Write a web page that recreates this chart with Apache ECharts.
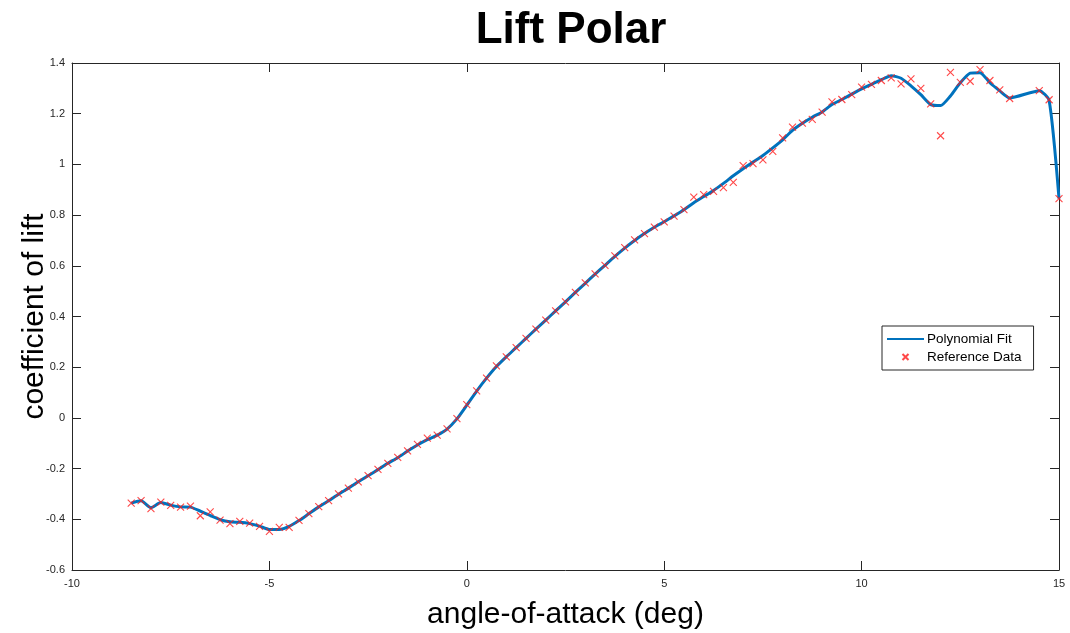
<!DOCTYPE html>
<html>
<head>
<meta charset="utf-8">
<title>Lift Polar</title>
<script src="https://cdn.jsdelivr.net/npm/echarts@6/dist/echarts.min.js"></script>
<style>
  html, body { margin: 0; padding: 0; background: #ffffff; }
  #chart { width: 1070px; height: 633px; }
</style>
</head>
<body>
<div id="chart"></div>
<script>
// Angle of attack (deg) for each sample
const aoa = [
  -8.5, -8.25, -8.0, -7.75, -7.5, -7.25, -7.0, -6.75, -6.5, -6.25,
  -6.0, -5.75, -5.5, -5.25, -5.0, -4.75, -4.5, -4.25, -4.0, -3.75,
  -3.5, -3.25, -3.0, -2.75, -2.5, -2.25, -2.0, -1.75, -1.5, -1.25,
  -1.0, -0.75, -0.5, -0.25, 0.0, 0.25, 0.5, 0.75, 1.0, 1.25,
  1.5, 1.75, 2.0, 2.25, 2.5, 2.75, 3.0, 3.25, 3.5, 3.75,
  4.0, 4.25, 4.5, 4.75, 5.0, 5.25, 5.5, 5.75, 6.0, 6.25,
  6.5, 6.75, 7.0, 7.25, 7.5, 7.75, 8.0, 8.25, 8.5, 8.75,
  9.0, 9.25, 9.5, 9.75, 10.0, 10.25, 10.5, 10.75, 11.0, 11.25,
  11.5, 11.75, 12.0, 12.25, 12.5, 12.75, 13.0, 13.25, 13.5, 13.75,
  14.5, 14.75, 15.0
];

// Measured lift coefficient (reference data)
const clRef = [
  -0.336, -0.326, -0.358, -0.332, -0.345, -0.352, -0.348, -0.386, -0.371, -0.403,
  -0.417, -0.408, -0.415, -0.428, -0.448, -0.432, -0.432, -0.404, -0.378, -0.350,
  -0.326, -0.300, -0.277, -0.252, -0.228, -0.203, -0.179, -0.156, -0.130, -0.104,
  -0.080, -0.068, -0.043, -0.003, 0.052, 0.107, 0.157, 0.205, 0.241, 0.277,
  0.314, 0.350, 0.386, 0.422, 0.458, 0.495, 0.533, 0.568, 0.602, 0.639,
  0.672, 0.702, 0.727, 0.753, 0.773, 0.796, 0.822, 0.871, 0.881, 0.894,
  0.908, 0.929, 0.995, 1.003, 1.018, 1.051, 1.105, 1.147, 1.163, 1.178,
  1.206, 1.247, 1.256, 1.275, 1.305, 1.316, 1.331, 1.341, 1.318, 1.337,
  1.300, 1.239, 1.113, 1.363, 1.324, 1.328, 1.374, 1.331, 1.294, 1.260,
  1.291, 1.255, 0.865
];

// Fitted lift coefficient at the same angles
const clFit = [
  -0.336, -0.327, -0.354, -0.334, -0.344, -0.351, -0.352, -0.368, -0.385, -0.401,
  -0.410, -0.412, -0.417, -0.427, -0.440, -0.440, -0.428, -0.405, -0.378, -0.351,
  -0.327, -0.301, -0.277, -0.252, -0.228, -0.204, -0.179, -0.157, -0.131, -0.107,
  -0.086, -0.068, -0.044, -0.004, 0.050, 0.106, 0.157, 0.203, 0.241, 0.277,
  0.314, 0.350, 0.386, 0.422, 0.458, 0.495, 0.531, 0.567, 0.602, 0.637,
  0.670, 0.700, 0.727, 0.752, 0.774, 0.797, 0.821, 0.849, 0.873, 0.897,
  0.925, 0.955, 0.983, 1.009, 1.035, 1.065, 1.097, 1.134, 1.162, 1.186,
  1.207, 1.236, 1.256, 1.277, 1.298, 1.316, 1.334, 1.350, 1.340, 1.310,
  1.275, 1.236, 1.232, 1.270, 1.322, 1.360, 1.362, 1.322, 1.290, 1.262,
  1.291, 1.252, 0.865
];

const xTicks = { min: -10, max: 15, step: 5 };
const yTicks = { min: -0.6, max: 1.4, step: 0.2 };

const axisColor = '#262626';
const crossPath = 'path://M0,0L10,10M10,0L0,10';
const fontFamily = 'Liberation Sans, Arial, sans-serif';

const chart = echarts.init(document.getElementById('chart'), null, { renderer: 'canvas' });

const tickLabel = { color: axisColor, fontFamily: fontFamily, fontSize: 11 };

const frameAxis = (extra) => Object.assign({
  type: 'value',
  axisLine: { show: true, onZero: false, lineStyle: { color: axisColor, width: 1 } },
  axisTick: { show: true, inside: true, length: 9, lineStyle: { color: axisColor, width: 1 } },
  splitLine: { show: false }
}, extra);

chart.setOption({
  backgroundColor: '#ffffff',
  animation: false,
  title: {
    text: 'Lift Polar',
    left: 566,
    top: 4,
    textAlign: 'center',
    textStyle: { fontFamily: fontFamily, fontWeight: 'bold', fontSize: 44, color: '#000000' }
  },
  grid: { left: 72, right: 11, top: 63, bottom: 63, containLabel: false, outerBoundsMode: 'none' },
  legend: {
    orient: 'vertical',
    left: 882,
    top: 326,
    padding: [6, 12, 6, 4],
    itemGap: 4,
    itemWidth: 37,
    itemHeight: 6,
    backgroundColor: '#ffffff',
    borderColor: axisColor,
    borderWidth: 1,
    textStyle: { fontFamily: fontFamily, fontSize: 13.5, color: '#000000', padding: [0, 0, 0, -2] },
    data: [
      { name: 'Polynomial Fit', itemStyle: { color: 'rgba(0,0,0,0)', borderWidth: 0 } },
      { name: 'Reference Data' }
    ]
  },
  xAxis: [
    frameAxis({
      position: 'bottom',
      min: xTicks.min, max: xTicks.max, interval: xTicks.step,
      axisLabel: Object.assign({ margin: 8 }, tickLabel),
      name: 'angle-of-attack (deg)',
      nameLocation: 'middle',
      nameGap: 30,
      nameMoveOverlap: false,
      nameTextStyle: { fontFamily: fontFamily, fontSize: 30, color: '#000000' }
    }),
    frameAxis({
      position: 'top',
      min: xTicks.min, max: xTicks.max, interval: xTicks.step,
      axisLabel: { show: false }
    })
  ],
  yAxis: [
    frameAxis({
      position: 'left',
      min: yTicks.min, max: yTicks.max, interval: yTicks.step,
      axisLabel: Object.assign({ margin: 7, formatter: v => String(parseFloat(v.toFixed(1))) }, tickLabel),
      name: 'coefficient of lift',
      nameLocation: 'middle',
      nameGap: 22,
      nameMoveOverlap: false,
      nameRotate: 90,
      nameTextStyle: { fontFamily: fontFamily, fontSize: 30, color: '#000000' }
    }),
    frameAxis({
      position: 'right',
      min: yTicks.min, max: yTicks.max, interval: yTicks.step,
      axisLabel: { show: false }
    })
  ],
  series: [
    {
      name: 'Polynomial Fit',
      type: 'line',
      xAxisIndex: 0,
      yAxisIndex: 0,
      data: aoa.map((a, i) => [a, clFit[i]]),
      symbol: 'none',
      smooth: 0.2,
      lineStyle: { color: '#0072BD', width: 3 },
      itemStyle: { color: '#0072BD' },
      z: 2
    },
    {
      name: 'Reference Data',
      type: 'scatter',
      xAxisIndex: 0,
      yAxisIndex: 0,
      data: aoa.map((a, i) => [a, clRef[i]]),
      symbol: crossPath,
      symbolSize: 7,
      itemStyle: { color: 'rgba(0,0,0,0)', borderColor: '#ff1a1a', borderWidth: 1.1 },
      z: 3
    }
  ]
});
</script>
</body>
</html>
